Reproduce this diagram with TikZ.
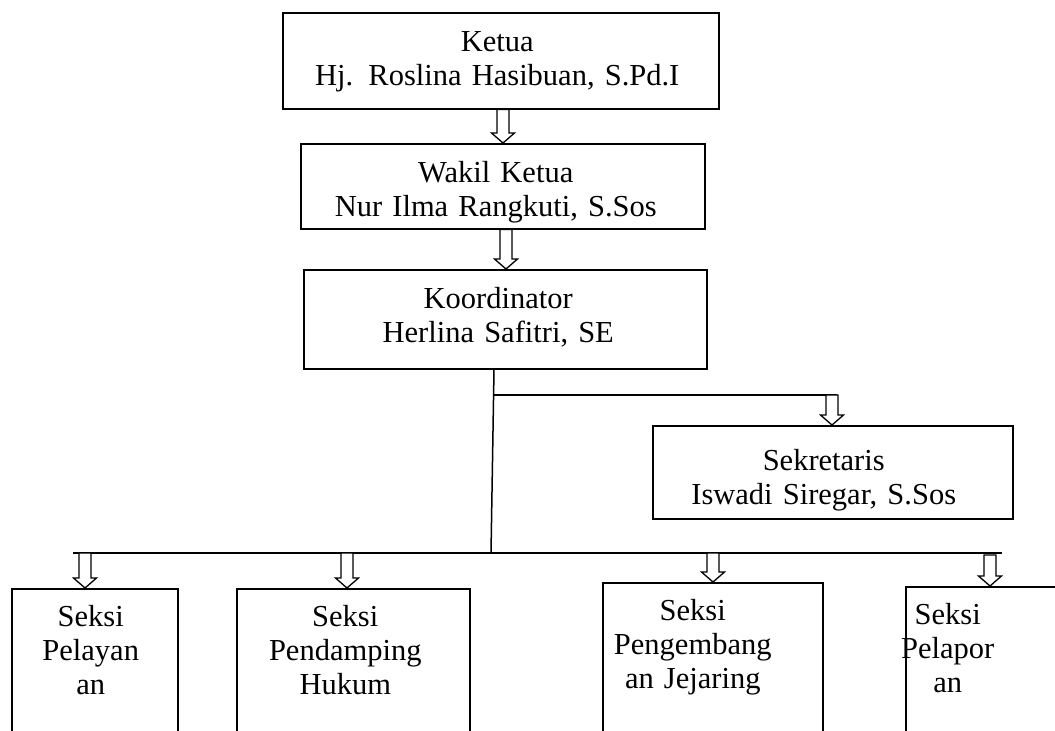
\documentclass[tikz,border=0pt]{standalone}
\usepackage{fontspec}
\setmainfont{Liberation Serif}
\usetikzlibrary{calc}
\setlength{\parindent}{0pt}
\newcommand{\Cl}[2]{\hspace*{#1pt}\makebox[0pt]{#2}}
\newcommand{\Tp}[1]{\rule{0pt}{#1pt}}
\newcommand{\Bt}[1]{\rule[-#1pt]{0pt}{#1pt}}
\tikzset{
  box/.style={draw, line width=1.5pt, anchor=north west, inner sep=0pt, align=left,
    font=\fontsize{30.5}{34}\selectfont},
  conn/.style={draw, line width=1.5pt},
  harr/.style={draw, line width=1.3pt, fill=white, line join=miter}
}
\newcommand{\harrow}[3]{%
  \draw[harr] let \p1=(#2), \p2=(#3), \p3=(#1,0) in
    (\x3-6pt,\y1) -- (\x3-6pt,\y2+10pt) -- (\x3-11.5pt,\y2+10pt) -- (\x3,\y2)
    -- (\x3+11.5pt,\y2+10pt) -- (\x3+6pt,\y2+10pt) -- (\x3+6pt,\y1) -- cycle;}
\begin{document}
\begin{tikzpicture}[x=1pt,y=-1pt]
\useasboundingbox (0,0) rectangle (1055,731);
\clip (0,0) rectangle (1055,731);

\node[box, text width=436pt] (ket) at (282,12)
  {\Tp{39}\Cl{214.5}{Ketua}\\\Cl{214.5}{Hj. Roslina Hasibuan, S.Pd.I}\Bt{23}};
\node[box, text width=404pt] (wak) at (300,143)
  {\Tp{39}\Cl{195}{Wakil Ketua}\\\Cl{195}{Nur Ilma Rangkuti, S.Sos}\Bt{12}};
\node[box, text width=403pt] (kor) at (303,269)
  {\Tp{39}\Cl{194.5}{Koordinator}\\\Cl{194.5}{Herlina Safitri, SE}\Bt{26}};
\node[box, text width=360pt] (sek) at (652,425)
  {\Tp{45}\Cl{171}{Sekretaris}\\\Cl{171}{Iswadi Siregar, S.Sos}\Bt{14}};
\node[box, text width=166pt] (b1) at (11,588)
  {\Tp{38}\Cl{79}{Seksi}\\\Cl{79}{Pelayan}\\\Cl{79}{an}\Bt{86}};
\node[box, text width=233pt] (b2) at (236,588)
  {\Tp{38}\Cl{108.5}{Seksi}\\\Cl{108.5}{Pendamping}\\\Cl{108.5}{Hukum}\Bt{86}};
\node[box, text width=220pt] (b3) at (602,582)
  {\Tp{38}\Cl{90}{Seksi}\\\Cl{90}{Pengembang}\\\Cl{90}{an Jejaring}\Bt{92}};
\node[box, text width=200pt] (b4) at (905,586)
  {\Tp{38}\Cl{42}{Seksi}\\\Cl{42}{Pelapor}\\\Cl{42}{an}\Bt{88}};

\coordinate (j0) at ($(kor.south west)+(191,0)$);
\coordinate (j1) at (493,395);
\coordinate (j2) at (491,553);
\coordinate (s1) at (837,395);
\coordinate (L) at (73,553);
\coordinate (R) at (1002,553);

\draw[conn] (j0) -- (j2);
\draw[conn] (j1) -- (s1);
\draw[conn] (L) -- (R);

\harrow{503}{ket.south}{wak.north}
\harrow{506}{wak.south}{kor.north}
\harrow{832}{s1}{sek.north}
\harrow{85}{L}{b1.north}
\harrow{347}{L}{b2.north}
\harrow{713}{L}{b3.north}
\harrow{990}{$(L)+(0,2)$}{b4.north}
\end{tikzpicture}
\end{document}
